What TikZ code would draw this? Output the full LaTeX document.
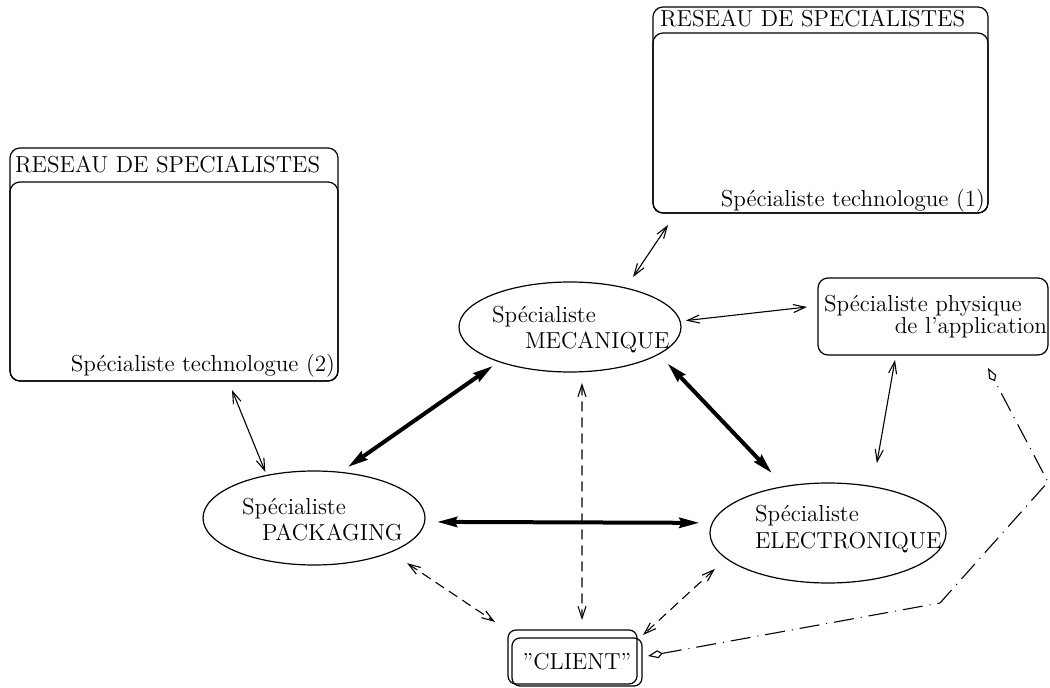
\documentclass[tikz,border=0pt]{standalone}
\usetikzlibrary{arrows.meta,shapes.geometric}
\begin{document}
\begin{tikzpicture}[x=0.5bp,y=-0.5bp,
  font=\fontsize{11.6}{13.9}\selectfont,
  box/.style={draw, rounded corners=5bp, inner sep=0pt, outer sep=0pt, line width=0.6bp},
  oval/.style={draw, ellipse, inner sep=0pt, outer sep=0pt, line width=0.6bp},
  lbl/.style={anchor=base west, inner sep=0pt, outer sep=0pt},
  thinarr/.style={line width=0.55bp,
    {Straight Barb[length=6bp,width=4bp]}-{Straight Barb[length=6bp,width=4bp]}},
  thickarr/.style={line width=2bp,
    {Stealth[length=10bp,width=5bp,inset=1bp]}-{Stealth[length=10bp,width=5bp,inset=1bp]}},
  dasharr/.style={thinarr, dash pattern=on 5bp off 3bp},
  dotarr/.style={line width=0.55bp, dash pattern=on 10bp off 3.5bp on 0.5bp off 3.5bp,
    {Kite[open,length=7.5bp,width=4bp,inset=2.5bp]}-{Kite[open,length=7.5bp,width=4bp,inset=2.5bp]}}]
\useasboundingbox (0,0) rectangle (1050,688);

% specialist networks
\node[box, minimum width=167.5bp, minimum height=103bp] (net1) at (820.5,110) {};
\node[box, minimum width=167.5bp, minimum height=90bp] (net1in) at (820.5,123) {};
\node[lbl] (net1title) at (660,27) {RESEAU DE SPECIALISTES};
\node[lbl, anchor=base east] (net1name) at (985,207) {Spécialiste technologue (1)};

\node[box, minimum width=164bp, minimum height=116.5bp] (net2) at (174,264.5) {};
\node[box, minimum width=164bp, minimum height=99.5bp] (net2in) at (174,281.5) {};
\node[lbl] (net2title) at (15,173) {RESEAU DE SPECIALISTES};
\node[lbl, anchor=base east] (net2name) at (335,372) {Spécialiste technologue (2)};

% specialists
\node[oval, minimum width=111bp, minimum height=45bp] (mec) at (570,327) {};
\node[lbl] (mec1) at (492,322) {Spécialiste};
\node[lbl] (mec2) at (525,348) {MECANIQUE};

\node[oval, minimum width=111bp, minimum height=47bp] (pack) at (314,518) {};
\node[lbl] (pack1) at (242,515) {Spécialiste};
\node[lbl] (pack2) at (262,540) {PACKAGING};

\node[oval, minimum width=118bp, minimum height=50bp] (elec) at (828,533) {};
\node[lbl] (elec1) at (755,522) {Spécialiste};
\node[lbl] (elec2) at (755,548) {ELECTRONIQUE};

\node[box, minimum width=115bp, minimum height=38.5bp] (phys) at (933,316.5) {};
\node[lbl] (phys1) at (824,312) {Spécialiste physique};
\node[lbl, anchor=base east] (phys2) at (1047,333) {de l’application};

% client
\node[box, rounded corners=4bp, minimum width=64.5bp, minimum height=27bp] (clientout) at (572.5,657) {};
\node[box, rounded corners=4bp, minimum width=65bp, minimum height=24bp] (client) at (577,662) {”CLIENT”};

\coordinate (w1) at (940,603);
\coordinate (w2) at (1048,482);

% thin links
\draw[thinarr, shorten >=6.65bp] ([shift={(15,12)}]net1.south west) -- (mec.35);
\draw[thinarr, shorten <=2.9bp] (mec.3) -- ([shift={(-11,-9.5)}]phys.west);
\draw[thinarr, shorten >=1.9bp] ([shift={(222,9)}]net2.south west) -- (pack.138);
\draw[thinarr, shorten >=12bp] ([shift={(77,5)}]phys.south west) -- (elec.46);

% thick links
\draw[thickarr, shorten <=4.6bp, shorten >=3.75bp] (pack.60) -- (mec.206);
\draw[thickarr, shorten <=6.5bp, shorten >=9.25bp] (mec.343) -- (elec.133);
\draw[thickarr, shorten <=6.2bp, shorten >=6.45bp] (pack.358) -- (elec.175);

% dashed links to client
\draw[dasharr, shorten <=5.65bp] (mec.285) -- ([shift={(74,-10)}]clientout.north west);
\draw[dasharr, shorten <=10bp] (pack.336) -- ([shift={(-13,-8)}]clientout.north west);
\draw[dasharr, shorten <=7.75bp] (elec.194) -- ([shift={(6,5)}]clientout.north east);

% dash-dot link
\draw[dotarr] ([shift={(11,-1)}]clientout.east) -- (w1) -- (w2) -- ([shift={(-60,13)}]phys.south east);
\end{tikzpicture}
\end{document}
